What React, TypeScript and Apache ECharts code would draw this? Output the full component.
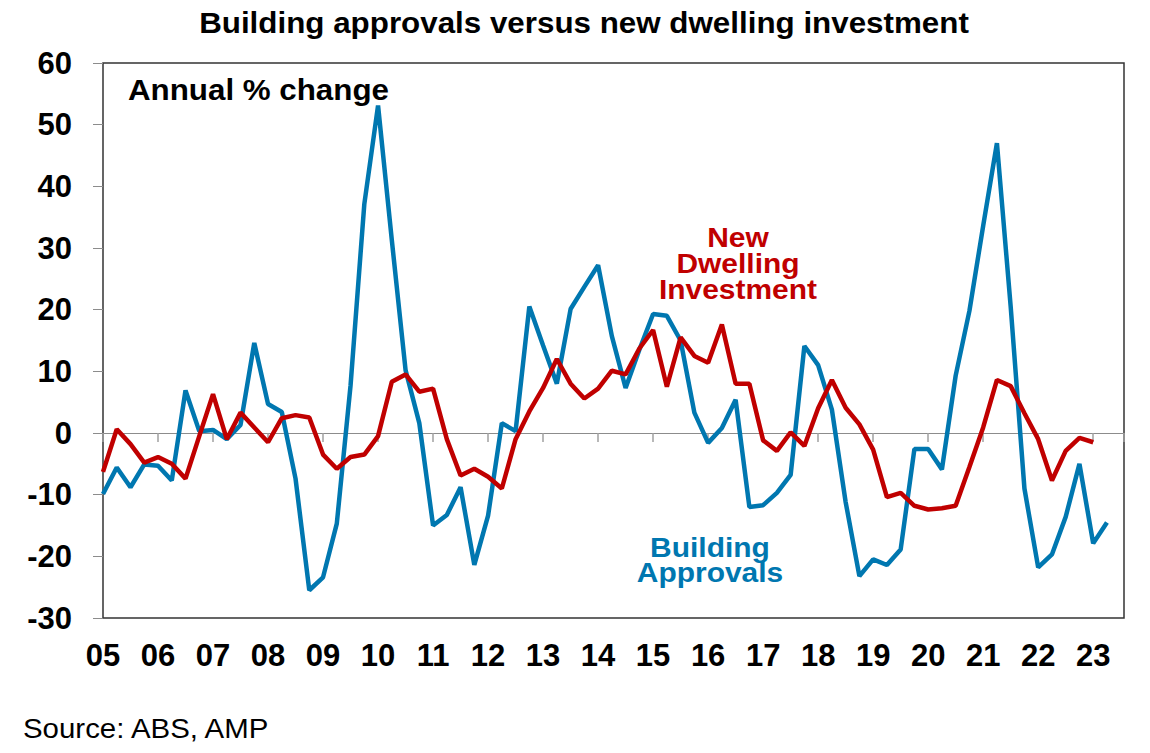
import { useEffect, useRef } from 'react'
import * as echarts from 'echarts'

// Quarterly data, first point = March quarter 2005
const START_YEAR = 2005

// Building approvals, annual % change
const approvals = [
  -9.9, -5.6, -8.8, -5.1, -5.3, -7.7, 6.9, 0.3, 0.5, -1.0,
  1.3, 14.6, 4.7, 3.4, -7.4, -25.5, -23.4, -14.7, 7.7, 37.1,
  53.1, 31.3, 10.2, 1.6, -15.0, -13.3, -8.8, -21.4, -13.4, 1.6,
  0.3, 20.5, 14.2, 8.0, 20.1, 23.7, 27.2, 15.7, 7.3, 13.5,
  19.3, 19.0, 15.0, 3.3, -1.6, 0.8, 5.4, -12.0, -11.7, -9.7,
  -6.8, 14.1, 11.0, 3.8, -11.2, -23.2, -20.5, -21.4, -18.9, -2.6,
  -2.6, -5.9, 9.3, 19.8, 33.6, 47.0, 20.5, -9.0, -21.8, -19.7,
  -13.6, -5.0, -17.9, -14.5,
]

// New dwelling investment, annual % change
const dwellingInvestment = [
  -6.3, 0.6, -1.8, -4.8, -3.9, -5.0, -7.4, -0.5, 6.3, -1.0,
  3.3, 0.9, -1.5, 2.4, 2.9, 2.5, -3.5, -5.8, -3.9, -3.5,
  -0.5, 8.3, 9.5, 6.7, 7.2, -1.0, -6.9, -5.8, -7.1, -9.0,
  -1.0, 3.5, 7.3, 12.0, 8.0, 5.6, 7.2, 10.1, 9.5, 13.7,
  16.7, 7.5, 15.5, 12.5, 11.4, 17.6, 8.0, 8.0, -1.2, -2.9,
  0.1, -2.1, 4.0, 8.6, 4.1, 1.4, -2.7, -10.4, -9.7, -11.8,
  -12.4, -12.2, -11.8, -5.5, 0.9, 8.6, 7.6, 3.2, -1.0, -7.7,
  -2.9, -0.8, -1.5,
]

const Y_MIN = -30
const Y_MAX = 60
const X_MAX = 2023.56

const BLUE = '#0077B0'
const RED = '#C00000'
const FONT = '"Liberation Sans", Arial, sans-serif'

const toPoints = (values: number[]) =>
  values.map((v, i) => [START_YEAR + i / 4, v])

const yearLabel = (v: number) =>
  Number.isInteger(v) ? String(v % 100).padStart(2, '0') : ''

const App = () => {
  const chartRef = useRef<HTMLDivElement>(null)

  useEffect(() => {
    if (!chartRef.current) return
    const chart = echarts.init(chartRef.current, undefined, { renderer: 'svg' })

    // one text element per line so the lines can sit closer than the font size
    const stacked = (lines: string[], x: number, y0: number, step: number, color: string) =>
      lines.map((line, i) => ({
        type: 'text',
        x,
        y: y0 + i * step,
        scaleX: 1.07,
        style: {
          text: line,
          fill: color,
          font: `bold 28px ${FONT}`,
          textAlign: 'center',
          textVerticalAlign: 'middle',
        },
      }))

    const option = {
      animation: false,
      backgroundColor: '#ffffff',
      grid: {
        left: 103,
        top: 63,
        right: 26,
        bottom: 135,
        show: true,
        borderColor: '#333333',
        borderWidth: 1.5,
        outerBoundsMode: 'none',
      },
      xAxis: [
        {
          type: 'value',
          min: START_YEAR,
          max: X_MAX,
          interval: 1,
          position: 'bottom',
          axisLine: { show: false, onZero: false },
          axisTick: { show: false },
          splitLine: { show: false },
          axisLabel: {
            formatter: yearLabel,
            color: '#000',
            fontFamily: FONT,
            fontWeight: 'bold',
            fontSize: 31,
            margin: 22,
            showMinLabel: true,
          },
        },
        {
          type: 'value',
          min: START_YEAR,
          max: X_MAX,
          interval: 1,
          position: 'bottom',
          axisLine: { show: true, onZero: true, lineStyle: { color: '#8c8c8c', width: 1 } },
          axisTick: { show: true, inside: false, length: 9, lineStyle: { color: '#a0a0a0', width: 1.5 } },
          splitLine: { show: false },
          axisLabel: { show: false },
        },
      ],
      yAxis: {
        type: 'value',
        min: Y_MIN,
        max: Y_MAX,
        interval: 10,
        axisLine: { show: false },
        axisTick: { show: true, inside: false, length: 10, lineStyle: { color: '#8c8c8c', width: 1 } },
        splitLine: { show: false },
        axisLabel: {
          color: '#000',
          fontFamily: FONT,
          fontWeight: 'bold',
          fontSize: 31,
          margin: 31,
        },
      },
      series: [
        {
          name: 'Building Approvals',
          type: 'line',
          data: toPoints(approvals),
          showSymbol: false,
          symbol: 'none',
          lineStyle: { color: BLUE, width: 4.5 },
          itemStyle: { color: BLUE },
          z: 2,
        },
        {
          name: 'New Dwelling Investment',
          type: 'line',
          data: toPoints(dwellingInvestment),
          showSymbol: false,
          symbol: 'none',
          lineStyle: { color: RED, width: 4.5 },
          itemStyle: { color: RED },
          z: 3,
        },
      ],
      graphic: [
        {
          type: 'text',
          x: 584,
          y: 23,
          scaleX: 1.045,
          style: {
            text: 'Building approvals versus new dwelling investment',
            fill: '#000',
            font: `bold 30px ${FONT}`,
            textAlign: 'center',
            textVerticalAlign: 'middle',
          },
        },
        {
          type: 'text',
          x: 128,
          y: 90,
          scaleX: 1.08,
          style: {
            text: 'Annual % change',
            fill: '#000',
            font: `bold 29px ${FONT}`,
            textAlign: 'left',
            textVerticalAlign: 'middle',
          },
        },
        ...stacked(['New', 'Dwelling', 'Investment'], 738, 237, 26, RED),
        ...stacked(['Building', 'Approvals'], 710, 547, 25, BLUE),
        {
          type: 'text',
          x: 23,
          y: 728,
          scaleX: 1.09,
          style: {
            text: 'Source: ABS, AMP',
            fill: '#000',
            font: `27px ${FONT}`,
            textAlign: 'left',
            textVerticalAlign: 'middle',
          },
        },
      ],
    }

    chart.setOption(option as Record<string, unknown>)

    return () => {
      chart.dispose()
    }
  }, [])

  return (
    <div
      ref={chartRef}
      style={{ position: 'absolute', left: 0, top: 0, width: '1150px', height: '753px' }}
    />
  )
}

export default App
